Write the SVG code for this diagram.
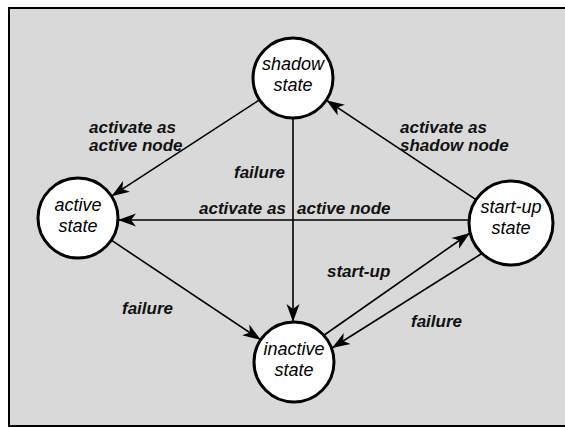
<svg xmlns="http://www.w3.org/2000/svg" width="565" height="428" viewBox="0 0 565 428">
<style>
.node circle{fill:#fff;stroke:#000;stroke-width:3}
.node text{font-family:"Liberation Sans",Arial,sans-serif;font-style:italic;font-size:18px;text-anchor:middle;fill:#000}
.conn line{stroke:#000;stroke-width:1.6;marker-end:url(#arr)}
.lbl{font-family:"Liberation Sans",Arial,sans-serif;font-style:italic;font-weight:bold;font-size:17px;fill:#111}
</style>
<defs>
<marker id="arr" markerUnits="userSpaceOnUse" markerWidth="20" markerHeight="14" refX="18" refY="7" orient="auto">
<path d="M0,0.5 L18,7 L0,13.5 L5,7 z" fill="#000"/>
</marker>
</defs>
<rect x="0" y="0" width="565" height="428" fill="#fff"/>
<rect x="9" y="8" width="570" height="418" fill="#d9d9d9" stroke="#000" stroke-width="2"/>
<g id="connectors" class="conn">
<line x1="259.5" y1="99.8" x2="111.5" y2="196.2"/>
<line x1="293" y1="118" x2="293" y2="322"/>
<line x1="476" y1="199.7" x2="326.3" y2="100.2"/>
<line x1="469" y1="220" x2="118" y2="220"/>
<line x1="111.3" y1="240.2" x2="260.7" y2="339.8"/>
<line x1="320" y1="338" x2="470" y2="233"/>
<line x1="481" y1="254" x2="332" y2="348"/>
</g>
<g id="labels">
<text class="lbl" x="89" y="133">activate as</text>
<text class="lbl" x="89" y="151">active node</text>
<text class="lbl" x="400" y="133">activate as</text>
<text class="lbl" x="400" y="151">shadow node</text>
<text class="lbl" x="234" y="178">failure</text>
<text class="lbl" x="199" y="214">activate as</text>
<text class="lbl" x="297" y="214">active node</text>
<text class="lbl" x="327" y="277">start-up</text>
<text class="lbl" x="122" y="314">failure</text>
<text class="lbl" x="411" y="327">failure</text>
</g>
<g id="shadow" class="node">
<circle cx="293" cy="78" r="40"/>
<text x="293" y="70">shadow</text>
<text x="293" y="91">state</text>
</g>
<g id="active" class="node">
<circle cx="78" cy="218" r="40"/>
<text x="78" y="211">active</text>
<text x="78" y="232">state</text>
</g>
<g id="startup" class="node">
<circle cx="511" cy="223" r="42"/>
<text x="511" y="213">start-up</text>
<text x="511" y="234">state</text>
</g>
<g id="inactive" class="node">
<circle cx="294" cy="362" r="40"/>
<text x="294" y="355">inactive</text>
<text x="294" y="376">state</text>
</g>
</svg>
